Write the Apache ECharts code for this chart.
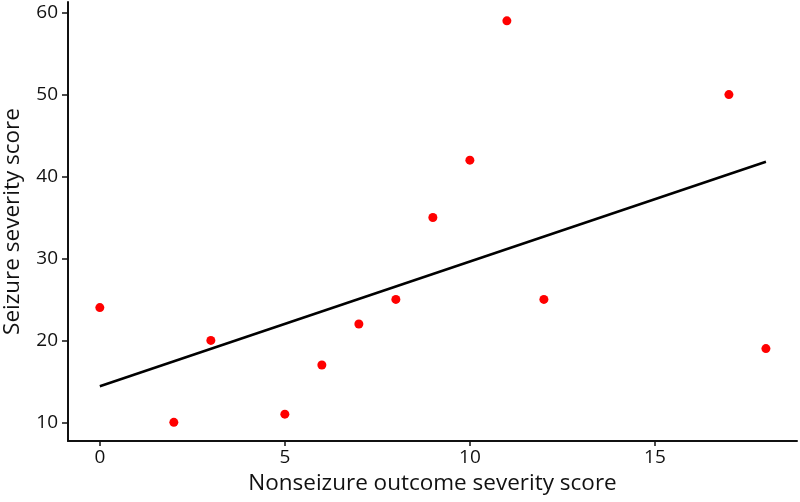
<!DOCTYPE html>
<html>
<head>
<meta charset="utf-8">
<script src="https://cdn.jsdelivr.net/npm/echarts@6/dist/echarts.min.js"></script>
<style>
  html, body { margin: 0; padding: 0; background: #fff; }
  #chart { width: 800px; height: 502px; }
</style>
</head>
<body>
<div id="chart"></div>
<script>
// nonseizure outcome score vs seizure severity score
const nonseizureScore = [0, 2, 3, 5, 6, 7, 8, 9, 10, 11, 12, 17, 18]
const seizureScore = [24, 10, 20, 11, 17, 22, 25, 35, 42, 59, 25, 50, 19]

// fitted line endpoints
const fitX = [0, 18]
const fitY = [14.4, 41.8]

const xTicks = [0, 5, 10, 15]
const yTicks = [10, 20, 30, 40, 50, 60]

const fontFamily = '"Open Sans", "Noto Sans", sans-serif'

const chart = echarts.init(document.getElementById('chart'))

chart.setOption({
  animation: false,
  grid: {
    left: 68,
    right: 3,
    top: 2,
    bottom: 61,
    outerBoundsMode: 'none'
  },
  xAxis: {
    type: 'value',
    min: -0.86,
    max: 18.84,
    name: 'Nonseizure outcome severity score',
    nameLocation: 'middle',
    nameGap: 26,
    nameTextStyle: { fontSize: 22.5, color: '#111', fontFamily },
    splitLine: { show: false },
    axisLine: { show: true, onZero: false, lineStyle: { color: '#111', width: 2 } },
    axisTick: { show: true, length: 5, customValues: xTicks, lineStyle: { color: '#111', width: 1.5 } },
    axisLabel: { customValues: xTicks, fontSize: 19, color: '#111', fontFamily, margin: 7 }
  },
  yAxis: {
    type: 'value',
    min: 7.72,
    max: 61.3,
    name: 'Seizure severity score',
    nameLocation: 'middle',
    nameGap: 44,
    nameTextStyle: { fontSize: 22.5, color: '#111', fontFamily },
    splitLine: { show: false },
    axisLine: { show: true, onZero: false, lineStyle: { color: '#111', width: 2 } },
    axisTick: { show: true, length: 6, customValues: yTicks, lineStyle: { color: '#111', width: 1.5 } },
    axisLabel: { customValues: yTicks, fontSize: 19, color: '#111', fontFamily, margin: 10 }
  },
  series: [
    {
      name: 'fit',
      type: 'line',
      data: fitX.map((x, i) => [x, fitY[i]]),
      symbol: 'none',
      lineStyle: { color: '#000', width: 2.5 },
      z: 1
    },
    {
      name: 'patients',
      type: 'scatter',
      data: nonseizureScore.map((x, i) => [x, seizureScore[i]]),
      symbolSize: 9,
      itemStyle: { color: '#ff0000', opacity: 1 },
      z: 2
    }
  ]
})
</script>
</body>
</html>
